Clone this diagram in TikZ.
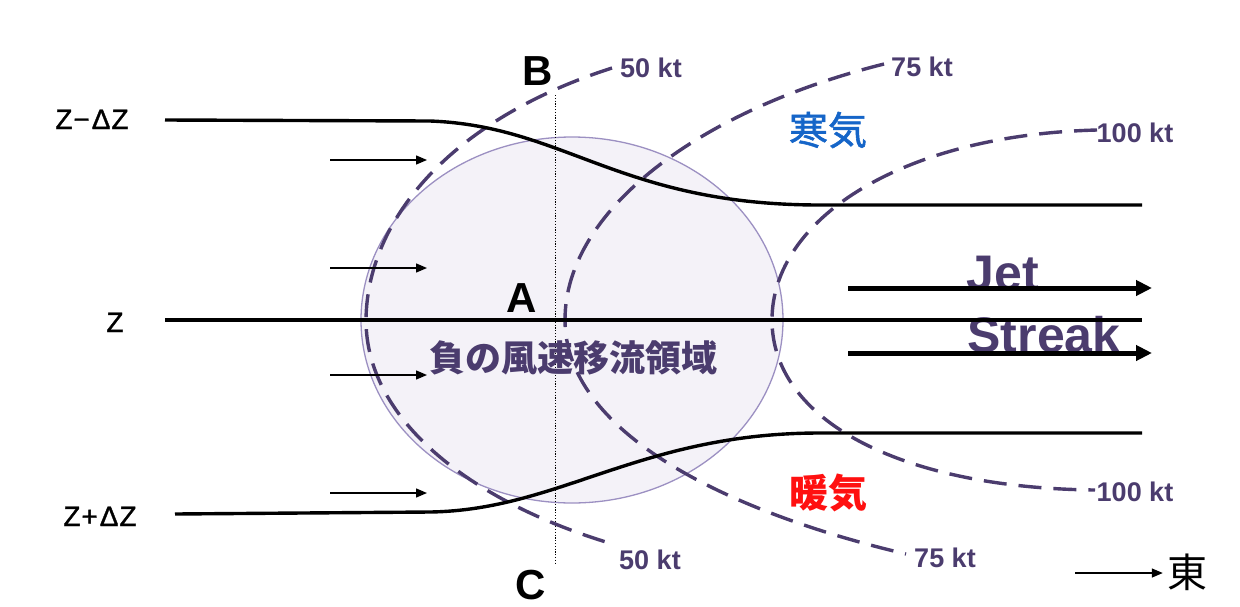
\documentclass[tikz,border=0pt]{standalone}
\usepackage{fontspec}
\setmainfont{Liberation Sans}
\newfontfamily\zf[FakeBold=1.2]{Liberation Sans}
\newfontfamily\jp{Noto Sans CJK JP}
\newfontfamily\jpm[FakeBold=1.5]{Noto Sans CJK JP}
\usetikzlibrary{arrows.meta}
\definecolor{kpurple}{HTML}{4B3C6E}
\definecolor{kblue}{HTML}{1565C8}
\definecolor{kred}{HTML}{FF1010}
\definecolor{efill}{HTML}{F4F2F8}
\definecolor{estroke}{HTML}{9C90C2}
\begin{document}
\begin{tikzpicture}[x=1pt,y=-1pt,
  contour/.style={draw=kpurple, line width=3.4pt, dash pattern=on 23pt off 12pt},
  iso/.style={draw=black, line width=3.4pt},
  flow/.style={-{Triangle[length=11pt,width=9pt]}, line width=1.4pt},
  jetarrow/.style={-{Triangle[length=16pt,width=15pt]}, line width=5pt},
  lbl/.style={inner sep=0pt, anchor=base, font=\bfseries\fontsize{42}{44}\selectfont},
  zlbl/.style={inner sep=0pt, anchor=base, font=\zf\fontsize{28}{30}\selectfont},
  kt/.style={inner sep=0pt, anchor=base, text=kpurple, font=\bfseries\fontsize{27}{29}\selectfont},
  jet/.style={inner sep=0pt, anchor=base, text=kpurple, font=\bfseries\fontsize{50}{52}\selectfont},
]
\useasboundingbox (0,0) rectangle (1240,606);
% region of negative advection
\draw[fill=efill, draw=estroke, line width=1.3pt] (572,320) ellipse [x radius=211, y radius=183];
% dotted B-C line
\coordinate (dtop) at (555,95);
\coordinate (dbot) at (555,565);
\draw[line width=1pt, dash pattern=on 1.2pt off 1.6pt] (dtop) -- (dbot);
% labels
\node[lbl] (B) at (538,85) {B};
\node[lbl] (A) at (522,312) {A};
\node[lbl] (C) at (531,599) {C};
\node[zlbl] (zm) at (92,129) {Z\kern1pt−\kern2pt Δ\kern1pt Z};
\node[zlbl] (z) at (115,332) {Z};
\node[zlbl] (zp) at (100,526) {Z\kern1pt+\kern2pt Δ\kern1pt Z};
\node[kt] (k50t) at (651,77) {50 kt};
\node[kt] (k75t) at (922,76) {75 kt};
\node[kt] (k100t) at (1135,142) {100 kt};
\node[kt] (k100b) at (1135,501) {100 kt};
\node[kt] (k75b) at (945,567) {75 kt};
\node[kt] (k50b) at (650,569) {50 kt};
\node[inner sep=0pt, text=kblue, font=\jpm\fontsize{39}{41}\selectfont] (cold) at (828,130) {寒気};
\node[inner sep=0pt, text=kred, font=\jp\bfseries\fontsize{39}{41}\selectfont] (warm) at (828,493) {暖気};
\node[inner sep=0pt, text=kpurple, font=\jp\bfseries\fontsize{36}{38}\selectfont] (neg) at (573,358) {負の風速移流領域};
\node[jet] (jt) at (1003,290) {Jet};
\node[jet] (st) at (1044,352) {Streak};
% isotachs
\draw[contour] (612,68) .. controls (450,120) and (367,220) .. (366,320)
               .. controls (366,420) and (470,500) .. (606,542);
\draw[contour] (884,64) .. controls (700,110) and (565,210) .. (565,320)
               .. controls (565,430) and (720,510) .. (906,554);
\draw[contour] (1097,130) .. controls (900,135) and (772,220) .. (772,320)
               .. controls (772,420) and (900,488) .. (1095,490);
% height contours
\draw[iso] (165,120) -- (430,121) .. controls (565,126) and (620,205) .. (820,205) -- (1142,205);
\draw[iso] (165,320) -- (1142,320);
\draw[iso] (175,514) -- (430,512) .. controls (560,510) and (640,433) .. (820,433) -- (1142,433);
% flow arrows
\foreach \yy/\nm in {160/fa,268/fb,375/fc,493/fd}{
  \coordinate (\nm s) at (330,\yy);
  \coordinate (\nm e) at (427,\yy);
  \draw[flow] (\nm s) -- (\nm e);
}
% jet arrows
\coordinate (j1s) at (848,288); \coordinate (j1e) at (1152,288);
\coordinate (j2s) at (848,353); \coordinate (j2e) at (1152,353);
\draw[jetarrow] (j1s) -- (j1e);
\draw[jetarrow] (j2s) -- (j2e);
% east
\node[inner sep=0pt, font=\jp\fontsize{40}{42}\selectfont] (east) at (1187,572) {東};
\coordinate (es) at (1075,573);
\draw[-{Triangle[length=11pt,width=9pt]}, line width=1.4pt] (es) -- ([xshift=-4pt]east.west |- es);
\end{tikzpicture}
\end{document}
